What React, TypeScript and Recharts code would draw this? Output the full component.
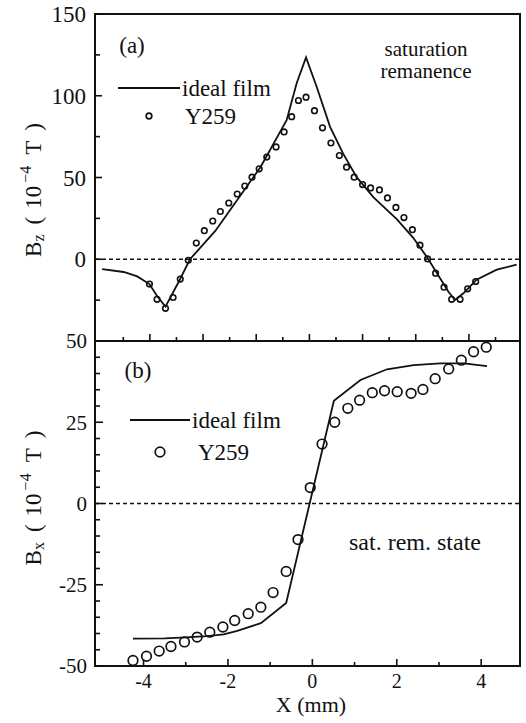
import React from "react";
import {
  ComposedChart,
  XAxis,
  YAxis,
  Line,
  Scatter,
  ReferenceLine,
  ReferenceArea,
  Legend,
} from "recharts";

// ---------- data ----------
// Panel (a): Bz, saturation remanence
const A_LINE_X = [-4.98, -4.47, -4.15, -3.86, -3.68, -3.48, -3.15, -2.9, -2.3, -1.86, -1.23, -0.61, -0.37, -0.15, 0.1, 0.42, 0.73, 1.05, 1.45, 2.0, 2.39, 2.73, 3.22, 3.38, 3.58, 3.89, 4.37, 4.84];
const A_LINE_Y = [-6, -7.8, -10.5, -15.2, -22.5, -29, -13, 0, 17.3, 33.3, 56.3, 85.1, 107.8, 123.5, 105.7, 81, 64.6, 50.2, 37.8, 24.5, 13.1, 0.8, -19.7, -24.9, -20.8, -12.5, -6.4, -3.3];
const A_PTS_X = [-3.86, -3.68, -3.48, -3.3, -3.13, -2.94, -2.75, -2.56, -2.36, -2.18, -1.98, -1.78, -1.6, -1.43, -1.26, -1.08, -0.86, -0.67, -0.49, -0.33, -0.15, 0.05, 0.24, 0.44, 0.64, 0.81, 0.99, 1.19, 1.38, 1.59, 1.78, 1.98, 2.17, 2.37, 2.55, 2.73, 2.92, 3.12, 3.3, 3.5, 3.68, 3.87];
const A_PTS_Y = [-15.2, -24.5, -30.0, -23.4, -12.1, -0.6, 9.9, 17.5, 23.4, 29.2, 34.4, 39.9, 44.8, 50.2, 55.3, 62.5, 68.7, 77.9, 87.2, 97.1, 99.1, 90.9, 80.4, 71.1, 63.4, 56.3, 50.2, 45.7, 43.6, 42.4, 37.5, 31.7, 25.5, 18.1, 8.6, 0.2, -8.5, -17.1, -24.5, -24.5, -18.1, -13.6];

// Panel (b): Bx, sat. rem. state
const B_LINE_X = [-4.25, -3.5, -3.0, -2.5, -2.1, -1.78, -1.22, -0.62, 0.51, 1.14, 1.77, 2.4, 3.03, 3.59, 4.14];
const B_LINE_Y = [-41.6, -41.5, -41.2, -40.8, -40.3, -39.2, -36.8, -30.6, 31.6, 38.0, 41.3, 42.6, 43.1, 43.1, 42.3];
const B_PTS_X = [-4.25, -3.93, -3.63, -3.35, -3.03, -2.73, -2.43, -2.12, -1.84, -1.52, -1.22, -0.93, -0.62, -0.34, -0.05, 0.23, 0.53, 0.84, 1.12, 1.42, 1.71, 2.01, 2.34, 2.62, 2.91, 3.23, 3.53, 3.82, 4.12];
const B_PTS_Y = [-48.3, -47.0, -45.4, -44.0, -42.6, -41.1, -39.6, -38.0, -36.0, -33.9, -31.9, -27.4, -20.9, -11.1, 4.9, 18.3, 25.0, 29.3, 31.8, 34.1, 34.7, 34.4, 33.9, 35.1, 38.4, 41.4, 44.1, 46.7, 48.1];

// ticks
const X_DOMAIN: [number, number] = [-5.15, 4.92];
const A_X_TICKS = [-4.48, -3.85, -3.22, -2.59, -1.96, -1.33, -0.7, -0.07, 0.56, 1.19, 1.82, 2.45, 3.08, 3.71, 4.34];
const A_Y_TICKS = [-50, -25, 0, 25, 50, 75, 100, 125, 150];
const A_Y_LABELS = [0, 50, 100, 150];
const B_X_TICKS = [-4, -3, -2, -1, 0, 1, 2, 3, 4];
const B_X_LABELS = [-4, -2, 0, 2, 4];
const B_Y_TICKS = [-50, -45, -40, -35, -30, -25, -20, -15, -10, -5, 0, 5, 10, 15, 20, 25, 30, 35, 40, 45, 50];
const B_Y_LABELS = [-50, -25, 0, 25, 50];

const SERIES_LINE = "ideal film";
const SERIES_PTS = "Y259";

const zip = (xs: number[], ys: number[]) => xs.map((x, i) => ({ x, y: ys[i] }));
const aLine = zip(A_LINE_X, A_LINE_Y);
const aPts = zip(A_PTS_X, A_PTS_Y);
const bLine = zip(B_LINE_X, B_LINE_Y);
const bPts = zip(B_PTS_X, B_PTS_Y);

// ---------- style ----------
const FONT = '"Liberation Serif", "Times New Roman", serif';
const INK = "#111";
const W = 526;
const H = 723;
const PLOT_LEFT = 95;
const PLOT_RIGHT = 520;
const A_TOP = 14;
const MID = 341;
const B_BOTTOM = 666;

const makeYTick = (labels: number[], fontSize: number, longLen: number, shortLen: number, gap: number) =>
  (props: any) => {
    const { x, y, payload } = props;
    const v = payload.value;
    const major = labels.includes(v);
    return (
      <g>
        <line x1={x} y1={y} x2={x + (major ? longLen : shortLen)} y2={y} stroke={INK} strokeWidth={1.6} />
        {major && (
          <text x={x - gap} y={y} dy="0.35em" textAnchor="end" fontFamily={FONT} fontSize={fontSize} fill={INK}>
            {v}
          </text>
        )}
      </g>
    );
  };

const aTopXTick = (props: any) => {
  const { x, y, index } = props;
  const len = index % 2 === 1 ? 7 : 4;
  return <line x1={x} y1={y} x2={x} y2={y - len} stroke={INK} strokeWidth={1.6} />;
};

const bXTick = (props: any) => {
  const { x, y, payload } = props;
  const v = payload.value;
  const major = B_X_LABELS.includes(v);
  return (
    <g>
      <line x1={x} y1={y} x2={x} y2={y - (major ? 7 : 4)} stroke={INK} strokeWidth={1.6} />
      {major && (
        <text x={x} y={y + 22} textAnchor="middle" fontFamily={FONT} fontSize={20} fill={INK}>
          {v}
        </text>
      )}
    </g>
  );
};

const yTitle = (sub: string, cx: number, cy: number) => () => (
  <text
    transform={`rotate(-90 ${cx} ${cy})`}
    x={cx}
    y={cy}
    textAnchor="middle"
    dominantBaseline="central"
    fontFamily={FONT}
    fontSize={23}
    fill={INK}
  >
    <tspan>B</tspan>
    <tspan fontSize={16} dy={5}>{sub}</tspan>
    <tspan dx={10} dy={-5}>(</tspan>
    <tspan dx={8}>10</tspan>
    <tspan fontSize={16} dx={3} dy={-8}>−4</tspan>
    <tspan dx={11} dy={8}>T</tspan>
    <tspan dx={10}>)</tspan>
  </text>
);

const xTitle = () => (
  <text x={311} y={712} textAnchor="middle" fontFamily={FONT} fontSize={22} fill={INK}>
    X (mm)
  </text>
);

const makeLegend = (rowH: number, lineW: number, r: number, gap1: number, gap2: number) => () => (
  <div style={{ fontFamily: FONT, fontSize: 23, color: INK }}>
    <div style={{ display: "flex", alignItems: "center", height: rowH }}>
      <svg width={lineW} height={rowH} style={{ display: "block" }}>
        <line x1={0} x2={lineW} y1={rowH / 2} y2={rowH / 2} stroke={INK} strokeWidth={2} />
      </svg>
      <span style={{ marginLeft: gap1, lineHeight: 1 }}>{SERIES_LINE}</span>
    </div>
    <div style={{ display: "flex", alignItems: "center", height: rowH }}>
      <svg width={lineW} height={rowH} style={{ display: "block" }}>
        <circle cx={lineW / 2} cy={rowH / 2} r={r} fill="none" stroke={INK} strokeWidth={1.7} />
      </svg>
      <span style={{ marginLeft: gap2, lineHeight: 1 }}>{SERIES_PTS}</span>
    </div>
  </div>
);

const circleShape = (r: number, sw: number) => (props: any) =>
  <circle cx={props.cx} cy={props.cy} r={r} fill="none" stroke={INK} strokeWidth={sw} />;

const Txt = ({ x, y, size, children }: any) => (
  <div
    style={{
      position: "absolute",
      left: x,
      top: y,
      transform: "translate(-50%, -50%)",
      fontFamily: FONT,
      fontSize: size,
      lineHeight: 1,
      whiteSpace: "nowrap",
      color: INK,
      textAlign: "center",
    }}
  >
    {children}
  </div>
);

export default function App() {
  return (
    <div style={{ position: "absolute", left: 0, top: 0, width: W, height: H, background: "#fff" }}>
      {/* Panel (a) */}
      <div style={{ position: "absolute", left: 0, top: 0 }}>
        <ComposedChart width={W} height={H} margin={{ top: A_TOP, right: W - PLOT_RIGHT, bottom: H - MID - 30, left: PLOT_LEFT - 40 }}>
          <XAxis type="number" dataKey="x" domain={X_DOMAIN} ticks={A_X_TICKS} interval={0} tickSize={0} tickMargin={0} tickLine={false} axisLine={false} tick={aTopXTick} height={30} allowDataOverflow />
          <YAxis type="number" dataKey="y" domain={[-50, 150]} ticks={A_Y_TICKS} interval={0} tickSize={0} tickMargin={0} tickLine={false} axisLine={false} tick={makeYTick(A_Y_LABELS, 23, 7, 5, 9)} width={40} allowDataOverflow label={{ content: yTitle("z", 33, 190) }} />
          <ReferenceArea x1={X_DOMAIN[0]} x2={X_DOMAIN[1]} y1={-50} y2={150} fill="none" stroke={INK} strokeWidth={2} ifOverflow="visible" />
          <ReferenceLine y={0} stroke={INK} strokeWidth={1.3} strokeDasharray="4 3" />
          <Line data={aLine} dataKey="y" type="linear" dot={false} stroke={INK} strokeWidth={1.8} isAnimationActive={false} name={SERIES_LINE} />
          <Scatter data={aPts} dataKey="y" shape={circleShape(2.8, 1.6)} isAnimationActive={false} name={SERIES_PTS} />
          <Legend layout="vertical" align="center" verticalAlign="middle" content={makeLegend(28, 62, 2.8, 2, 5)} wrapperStyle={{ position: "absolute", left: 118, top: 74, width: 200, height: 56 }} />
        </ComposedChart>
      </div>
      {/* Panel (b) */}
      <div style={{ position: "absolute", left: 0, top: 0 }}>
        <ComposedChart width={W} height={H} margin={{ top: MID, right: W - PLOT_RIGHT, bottom: H - B_BOTTOM - 30, left: PLOT_LEFT - 40 }}>
          <XAxis type="number" dataKey="x" domain={X_DOMAIN} ticks={B_X_TICKS} interval={0} tickSize={0} tickMargin={0} tickLine={false} axisLine={false} tick={bXTick} height={30} allowDataOverflow label={{ content: xTitle }} />
          <YAxis type="number" dataKey="y" domain={[-50, 50]} ticks={B_Y_TICKS} interval={0} tickSize={0} tickMargin={0} tickLine={false} axisLine={false} tick={makeYTick(B_Y_LABELS, 21, 8, 5, 8)} width={40} allowDataOverflow label={{ content: yTitle("x", 33, 498) }} />
          <ReferenceArea x1={X_DOMAIN[0]} x2={X_DOMAIN[1]} y1={-50} y2={50} fill="none" stroke={INK} strokeWidth={2} ifOverflow="visible" />
          <ReferenceLine y={0} stroke={INK} strokeWidth={1.3} strokeDasharray="4 3" />
          <Line data={bLine} dataKey="y" type="linear" dot={false} stroke={INK} strokeWidth={1.8} isAnimationActive={false} name={SERIES_LINE} />
          <Scatter data={bPts} dataKey="y" shape={circleShape(4.8, 1.7)} isAnimationActive={false} name={SERIES_PTS} />
          <Legend layout="vertical" align="center" verticalAlign="middle" content={makeLegend(32, 60, 4.8, 2, 8)} wrapperStyle={{ position: "absolute", left: 130, top: 404, width: 200, height: 64 }} />
        </ComposedChart>
      </div>
      <Txt x={132} y={45} size={23}>(a)</Txt>
      <Txt x={426} y={49} size={21}>saturation</Txt>
      <Txt x={426} y={71} size={21}>remanence</Txt>
      <Txt x={138} y={370} size={23}>(b)</Txt>
      <Txt x={415} y={542} size={24}>sat. rem. state</Txt>
    </div>
  );
}
